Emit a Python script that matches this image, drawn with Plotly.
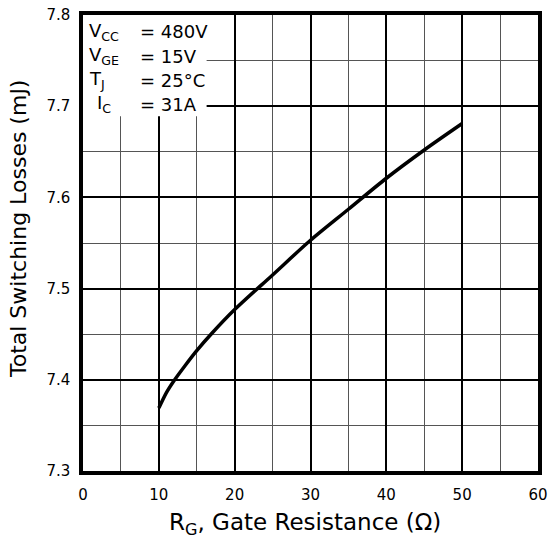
import plotly.graph_objects as go

rg = [10, 11, 12, 13.5, 15, 17, 20, 25, 30, 35, 40, 45, 50]
losses = [7.369, 7.386, 7.399, 7.416, 7.432, 7.451, 7.477, 7.515, 7.553, 7.587, 7.621, 7.652, 7.681]

x_ticks = [0, 10, 20, 30, 40, 50, 60]
y_ticks = [7.3, 7.4, 7.5, 7.6, 7.7, 7.8]

cond_labels = ["V<sub>CC</sub>", "V<sub>GE</sub>", "T<sub>J</sub>", "I<sub>C</sub>"]
cond_values = ["= 480V", "= 15V", "= 25°C", "= 31A"]

FONT = "DejaVu Sans, Liberation Sans, Arial, sans-serif"

W, H = 550, 543
L, T = 83, 15
R = W - 538
B = H - 471
PW, PH = W - L - R, H - T - B


def px_x(p):
    return (p - L) / PW


def px_y(p):
    return 1 - (p - T) / PH


fig = go.Figure()
fig.add_trace(go.Scatter(x=rg, y=losses, mode="lines",
                         line=dict(color="black", width=3.5, shape="spline", smoothing=0.8),
                         showlegend=False, hoverinfo="skip"))

# white box behind the conditions text
fig.add_shape(type="rect", xref="x", yref="y", x0=0, x1=16.3, y0=7.689, y1=7.8,
              fillcolor="white", line=dict(width=0), layer="between")

ys_px = [32, 56, 80, 104]
xs_lab = [87, 87, 87, 95]
for lab, val, yp, xl in zip(cond_labels, cond_values, ys_px, xs_lab):
    fig.add_annotation(text=lab, xref="paper", yref="paper",
                       x=px_x(xl), y=px_y(yp), xanchor="left", yanchor="middle",
                       showarrow=False, font=dict(family=FONT, size=18, color="black"))
    fig.add_annotation(text=val, xref="paper", yref="paper",
                       x=px_x(138), y=px_y(yp), xanchor="left", yanchor="middle",
                       showarrow=False, font=dict(family=FONT, size=18, color="black"))

# axis titles
fig.add_annotation(text="R<sub>G</sub>, Gate Resistance (Ω)", xref="paper", yref="paper",
                   x=px_x(305), y=px_y(524), xanchor="center", yanchor="middle",
                   showarrow=False, font=dict(family=FONT, size=23, color="black"))
fig.add_annotation(text="Total Switching Losses (mJ)", xref="paper", yref="paper",
                   x=px_x(18), y=px_y(229), xanchor="center", yanchor="middle", textangle=-90,
                   showarrow=False, font=dict(family=FONT, size=22, color="black"))

fig.update_layout(
    width=W, height=H,
    margin=dict(l=L, r=R, t=T, b=B, autoexpand=False),
    paper_bgcolor="white", plot_bgcolor="white",
    font=dict(family=FONT, color="black"),
    xaxis=dict(range=[0, 60], tickvals=x_ticks, ticktext=[str(v) for v in x_ticks],
               showgrid=True, gridcolor="black", gridwidth=2,
               minor=dict(dtick=5, showgrid=True, gridcolor="#555", gridwidth=1),
               showline=True, linecolor="black", linewidth=3.5, mirror=True,
               ticks="", zeroline=False, tickfont=dict(size=15), automargin=False,
               ticklabelstandoff=7, ticklabeloverflow="allow"),
    yaxis=dict(range=[7.3, 7.8], tickvals=y_ticks, ticktext=[f"{v:.1f}" for v in y_ticks],
               showgrid=True, gridcolor="black", gridwidth=2,
               minor=dict(dtick=0.05, showgrid=True, gridcolor="#555", gridwidth=1),
               showline=True, linecolor="black", linewidth=3.5, mirror=True,
               ticks="", zeroline=False, tickfont=dict(size=15), automargin=False,
               ticklabelstandoff=6, ticklabeloverflow="allow"),
)

fig.write_html("out.html", config={"displayModeBar": False},
               post_script="document.body.style.margin='0';")
